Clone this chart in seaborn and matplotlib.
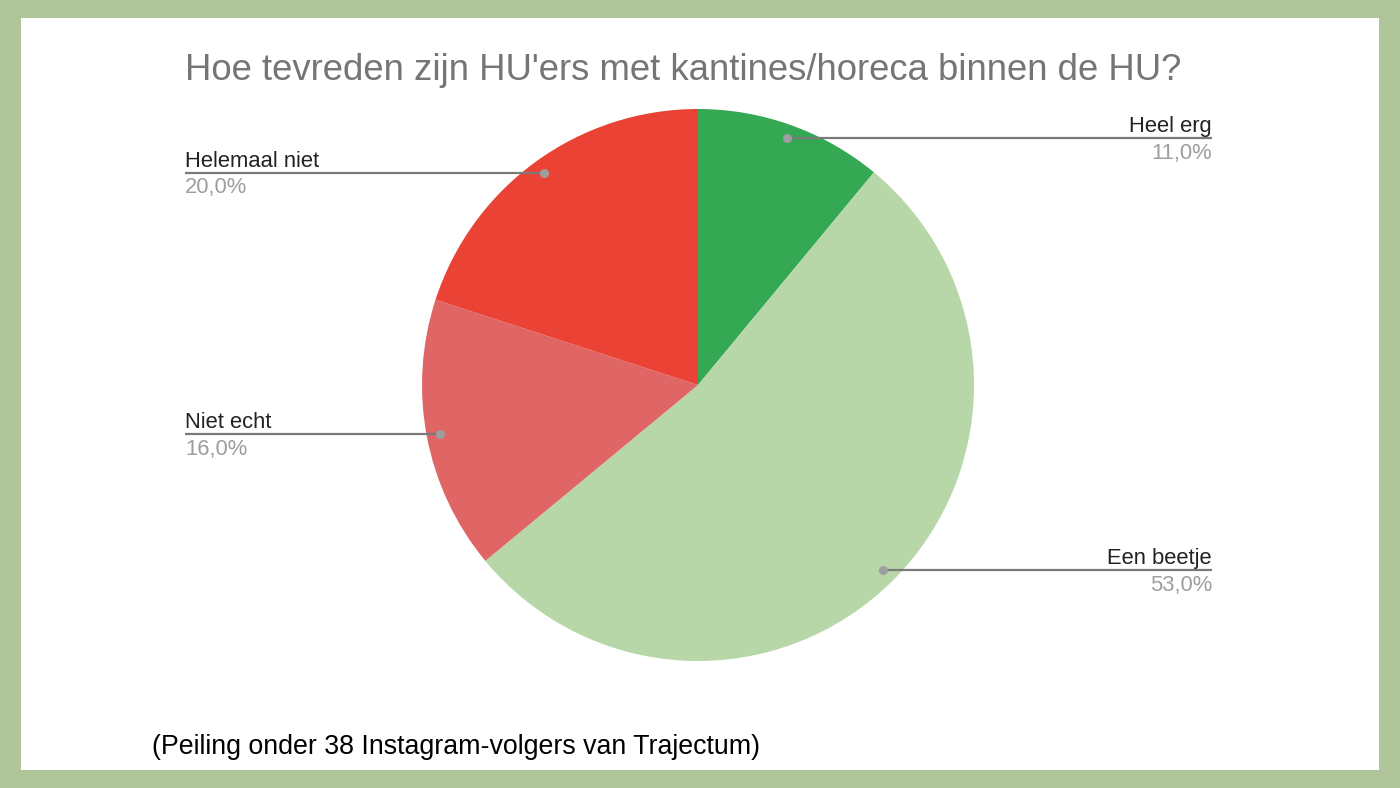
import numpy as np
import matplotlib
matplotlib.use("Agg")
import matplotlib.pyplot as plt
from matplotlib.patches import Rectangle
import seaborn as sns

sns.set_theme(style="white")
plt.rcParams['font.family'] = ['Liberation Sans', 'DejaVu Sans']

categories = ["Heel erg", "Een beetje", "Niet echt", "Helemaal niet"]
values = [11.0, 53.0, 16.0, 20.0]
pct_labels = ["11,0%", "53,0%", "16,0%", "20,0%"]
colors = ["#34a853", "#b7d7a8", "#e06666", "#ea4335"]
title = "Hoe tevreden zijn HU'ers met kantines/horeca binnen de HU?"
footer = "(Peiling onder 38 Instagram-volgers van Trajectum)"

W, H = 1400, 788
fig = plt.figure(figsize=(W / 100, H / 100), dpi=100)
fig.patch.set_facecolor("#b1c59b")
ax = fig.add_axes([0, 0, 1, 1])
ax.set_xlim(0, W)
ax.set_ylim(0, H)
ax.set_aspect("equal")
ax.axis("off")

def Y(py):
    return H - py

ax.add_patch(Rectangle((21, Y(770)), 1379 - 21, 770 - 18, facecolor="white",
                       edgecolor="none", zorder=0))

cx, cy, r = 698, Y(385), 276
ax.pie(values, colors=colors, startangle=90, counterclock=False,
       center=(cx, cy), radius=r, wedgeprops=dict(linewidth=0),
       frame=False)
ax.set_xlim(0, W)
ax.set_ylim(0, H)
ax.axis("off")

cum = np.cumsum([0] + values[:-1])
total = sum(values)
for cat, v, c0, pl in zip(categories, values, cum, pct_labels):
    mid = 90 - (c0 + v / 2) / total * 360
    a = np.deg2rad(mid)
    dx, dy = cx + 0.95 * r * np.cos(a), cy + 0.95 * r * np.sin(a)
    if np.cos(a) >= 0:
        xe, ha = 1212, "right"
    else:
        xe, ha = 185, "left"
    ax.plot([dx, xe], [dy, dy], color="#7a7a7a", lw=1.6, zorder=3,
            solid_capstyle="butt")
    ax.plot([dx], [dy], "o", color="#9e9e9e", ms=5.5, zorder=4)
    ax.text(xe, dy + 11.5, cat, ha=ha, va="center", fontsize=15.8,
            color="#222222", zorder=5)
    ax.text(xe, dy - 15, pl, ha=ha, va="center", fontsize=15.8,
            color="#9e9e9e", zorder=5)

ax.text(185, Y(70), title, ha="left", va="center", fontsize=26.3,
        color="#757575")
ax.text(152, Y(747), footer, ha="left", va="center", fontsize=19.3,
        color="#000000")

fig.savefig("out.png", dpi=100, facecolor=fig.get_facecolor())
